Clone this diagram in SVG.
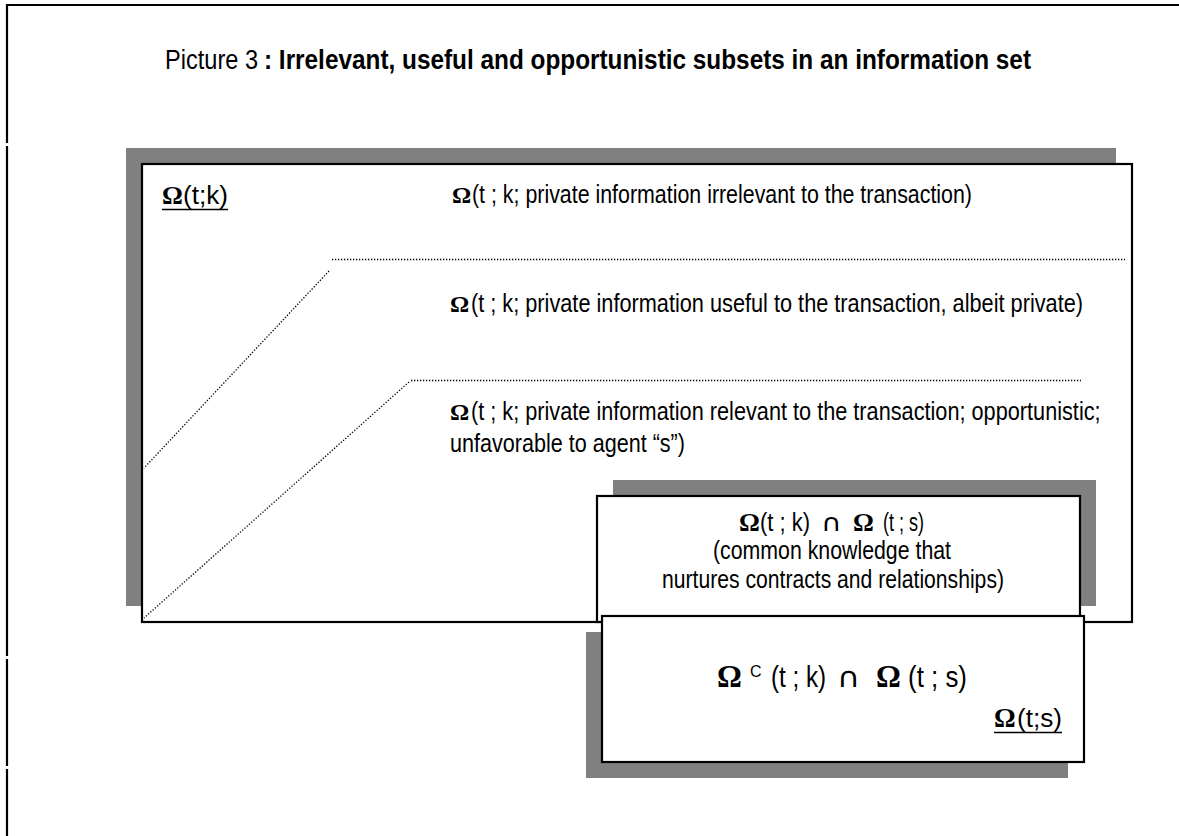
<svg xmlns="http://www.w3.org/2000/svg" width="1179" height="836" viewBox="0 0 1179 836">
<style>
.sans{font-family:"Liberation Sans Narrow","Arial Narrow","Liberation Sans",Arial,sans-serif;fill:#000}
.om{font-family:"Liberation Serif","Times New Roman",serif;font-weight:bold;fill:#000}
.cap{font-family:"DejaVu Sans","Liberation Sans",sans-serif;fill:#000}
.b{font-weight:bold}
.box{fill:#fff;stroke:#000;stroke-width:2.2}
.shadow{fill:#808080;stroke:none}
.dot{fill:none;stroke:#000;stroke-width:1.3;stroke-dasharray:1.3 1.7}
.frame{stroke:#000;stroke-width:2.2;fill:none}
.ul{stroke:#000;stroke-width:1.5}
</style>
<rect width="1179" height="836" fill="#fff"/>
<g id="frame">
<line class="frame" x1="6" y1="5" x2="1179" y2="5"/>
<line class="frame" x1="7" y1="4" x2="7" y2="143"/>
<line class="frame" x1="7" y1="146" x2="7" y2="656"/>
<line class="frame" x1="7" y1="659" x2="7" y2="766"/>
<line class="frame" x1="7" y1="769" x2="7" y2="836"/>
</g>
<g id="title">
<text class="sans" x="165" y="69" font-size="27" textLength="93" lengthAdjust="spacingAndGlyphs">Picture 3</text>
<text class="sans b" x="264" y="69" font-size="27" textLength="767" lengthAdjust="spacingAndGlyphs">: Irrelevant, useful  and opportunistic subsets in an information set</text>
</g>
<g id="omega-tk-set">
<rect class="shadow" x="126" y="148" width="990" height="458"/>
<rect class="box" x="142" y="164" width="990" height="458"/>
<text class="om" x="162" y="204" font-size="26">Ω</text>
<text class="sans" x="183" y="204" font-size="25" textLength="45" lengthAdjust="spacingAndGlyphs">(t;k)</text>
<line class="ul" x1="162" y1="209.5" x2="228" y2="209.5"/>
</g>
<g id="connectors">
<line class="dot" x1="332" y1="259.5" x2="1125" y2="259.5"/>
<line class="dot" x1="329" y1="271" x2="144" y2="468"/>
<line class="dot" x1="411" y1="380.5" x2="1081" y2="380.5"/>
<line class="dot" x1="409" y1="382" x2="144" y2="618"/>
</g>
<g id="irrelevant">
<text class="om" x="452" y="203" font-size="24">Ω</text>
<text class="sans" x="472" y="203" font-size="25" textLength="500" lengthAdjust="spacingAndGlyphs">(t ; k; private information irrelevant to the transaction)</text>
</g>
<g id="useful">
<text class="om" x="450" y="312" font-size="24">Ω</text>
<text class="sans" x="471" y="312" font-size="25" textLength="612" lengthAdjust="spacingAndGlyphs">(t ; k; private information useful to the transaction, albeit private)</text>
</g>
<g id="opportunistic">
<text class="om" x="450" y="420" font-size="24">Ω</text>
<text class="sans" transform="translate(471 420) scale(0.8 1)" x="0" y="0" font-size="25" textLength="787" lengthAdjust="spacingAndGlyphs">(t ; k; private information relevant to the transaction; opportunistic;</text>
<text class="sans" x="450" y="452" font-size="25" textLength="235" lengthAdjust="spacingAndGlyphs">unfavorable to agent “s”)</text>
</g>
<g id="common-knowledge">
<rect class="shadow" x="613" y="480" width="483" height="126"/>
<rect class="box" x="597" y="496" width="483" height="126"/>
<text class="om" x="739" y="531" font-size="26">Ω</text>
<text class="sans" x="760" y="531" font-size="26" textLength="50" lengthAdjust="spacingAndGlyphs">(t ; k)</text>
<text class="cap" x="821" y="531" font-size="24" textLength="21" lengthAdjust="spacingAndGlyphs">∩</text>
<text class="om" x="853" y="531" font-size="26">Ω</text>
<text class="sans" x="883" y="531" font-size="26" textLength="41" lengthAdjust="spacingAndGlyphs">(t ; s)</text>
<text class="sans" x="713" y="559" font-size="25" textLength="238" lengthAdjust="spacingAndGlyphs">(common knowledge that</text>
<text class="sans" x="662" y="588" font-size="25" textLength="342" lengthAdjust="spacingAndGlyphs">nurtures contracts and relationships)</text>
</g>
<g id="omega-ts-set">
<rect class="shadow" x="586" y="632" width="482" height="146"/>
<rect class="box" x="602" y="616" width="482" height="146"/>
<text class="om" x="717" y="687" font-size="31">Ω</text>
<text class="sans" x="750" y="677" font-size="16">C</text>
<text class="sans" x="771" y="687" font-size="30" textLength="55" lengthAdjust="spacingAndGlyphs">(t ; k)</text>
<text class="cap" x="837" y="687" font-size="28" textLength="23" lengthAdjust="spacingAndGlyphs">∩</text>
<text class="om" x="876" y="687" font-size="31">Ω</text>
<text class="sans" x="908" y="687" font-size="30" textLength="59" lengthAdjust="spacingAndGlyphs">(t ; s)</text>
<text class="om" x="994" y="727" font-size="27">Ω</text>
<text class="sans" x="1017" y="727" font-size="26" textLength="45" lengthAdjust="spacingAndGlyphs">(t;s)</text>
<line class="ul" x1="994" y1="732.5" x2="1062" y2="732.5"/>
</g>
</svg>
